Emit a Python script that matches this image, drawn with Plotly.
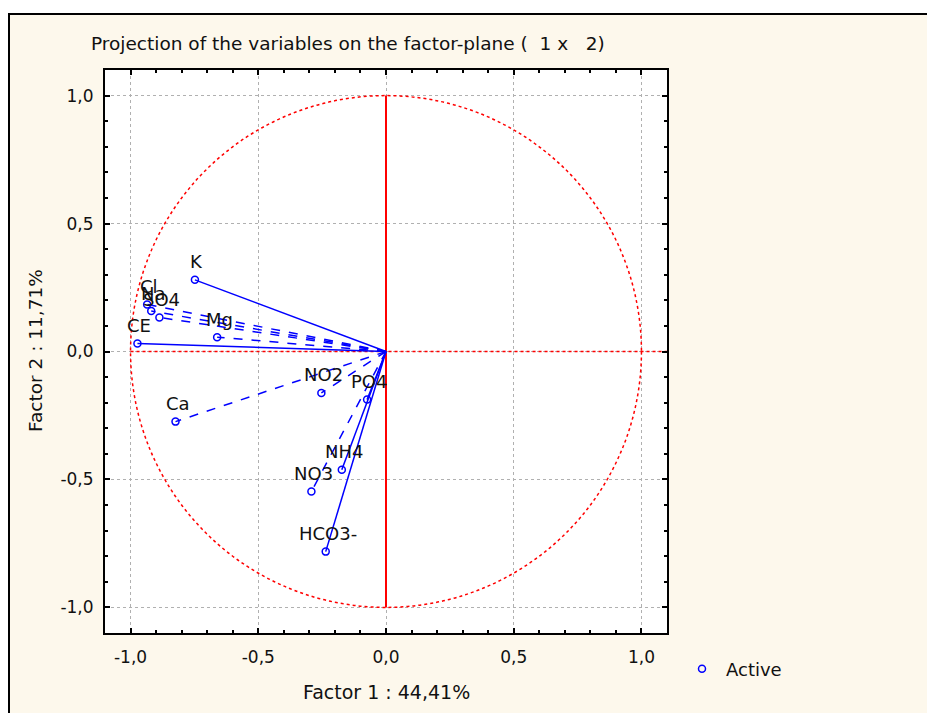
import plotly.graph_objects as go

# ---- data (factor loadings) ----
variables = ["K", "Cl", "Na", "SO4", "CE", "Mg", "Ca", "NO2", "PO4", "NH4", "NO3", "HCO3-"]
factor1 = [-0.748, -0.935, -0.919, -0.887, -0.973, -0.661, -0.824, -0.253, -0.074, -0.173, -0.292, -0.236]
factor2 = [0.280, 0.184, 0.158, 0.133, 0.031, 0.056, -0.274, -0.162, -0.188, -0.462, -0.547, -0.782]
tick_values = [-1.0, -0.5, 0.0, 0.5, 1.0]
tick_labels = [f"{v:.1f}".replace(".", ",") for v in tick_values]

# ---- styles ----
dashed_vars = {"Cl", "Na", "SO4", "Mg", "Ca", "NO2", "NO3"}
BLUE = "#0000ff"
RED = "#ff0000"
FONT = "DejaVu Sans, Arial, sans-serif"
TXT = "#111111"

# page has an 8px body margin; work in screenshot pixels and convert
OFF = 8
W, H = 935 - OFF, 713 - OFF
L, T = 105 - OFF, 70 - OFF
PW, PH = 562, 563
R, B = W - L - PW, H - T - PH


def px_x(px):
    return (px - OFF - L) / PW


def px_y(py):
    return (T + PH - (py - OFF)) / PH


fig = go.Figure()

for name, x, y in zip(variables, factor1, factor2):
    fig.add_trace(go.Scatter(
        x=[0, x], y=[0, y], mode="lines",
        line=dict(color=BLUE, width=1.5, dash="dash" if name in dashed_vars else "solid"),
        showlegend=False, hoverinfo="skip"))

fig.add_trace(go.Scatter(
    x=factor1, y=factor2, mode="markers", name="Active",
    marker=dict(symbol="circle-open", size=7, color=BLUE, line=dict(width=1.5, color=BLUE)),
    text=variables, hoverinfo="text"))

annotations = []
for name, x, y in zip(variables, factor1, factor2):
    annotations.append(dict(x=x, y=y, xref="x", yref="y", text=name, showarrow=False,
                            yshift=18, xshift=2, font=dict(family=FONT, size=18, color=TXT)))

annotations += [
    dict(x=px_x(89), y=px_y(43), xref="paper", yref="paper", xanchor="left", yanchor="middle",
         text="Projection of the variables on the factor-plane (  1 x   2)", showarrow=False,
         font=dict(family=FONT, size=18.5, color=TXT)),
    dict(x=px_x(386), y=px_y(692), xref="paper", yref="paper", xanchor="center", yanchor="middle",
         text="Factor 1 : 44,41%", showarrow=False, font=dict(family=FONT, size=19, color=TXT)),
    dict(x=px_x(35), y=px_y(351), xref="paper", yref="paper", xanchor="center", yanchor="middle",
         text="Factor 2 : 11,71%", textangle=-90, showarrow=False,
         font=dict(family=FONT, size=18.5, color=TXT)),
]

shapes = [
    # frame
    dict(type="path", xref="paper", yref="paper",
         path=f"M {px_x(9)},{px_y(H + 40)} L {px_x(9)},{px_y(14)} L {px_x(W + 40)},{px_y(14)}",
         line=dict(color="black", width=2), layer="below"),
    # white strip above the frame
    dict(type="rect", xref="paper", yref="paper", x0=px_x(-20), x1=px_x(W + 40), y0=px_y(13), y1=px_y(-20),
         fillcolor="white", line=dict(width=0), layer="below"),
    # unit circle
    dict(type="circle", xref="x", yref="y", x0=-1, y0=-1, x1=1, y1=1,
         line=dict(color=RED, width=1.5, dash="dot"), layer="between"),
    # horizontal axis line
    dict(type="line", xref="x", yref="y", x0=-1, y0=0, x1=1.1, y1=0,
         line=dict(color=RED, width=1.5, dash="dot"), layer="between"),
    # vertical axis line
    dict(type="line", xref="x", yref="y", x0=0, y0=-1, x1=0, y1=1,
         line=dict(color=RED, width=2), layer="between"),
]

axis_common = dict(
    range=[-1.1, 1.1], tickvals=tick_values, ticktext=tick_labels,
    ticks="inside", ticklen=5, tickwidth=1.5, tickcolor="black",
    showgrid=True, gridcolor="#b0b0b0", griddash="dot", gridwidth=1,
    zeroline=False, showline=True, linecolor="black", linewidth=2, mirror="ticks",
    minor=dict(tick0=0, dtick=0.1, ticks="inside", ticklen=3, tickcolor="black", showgrid=False),
    tickfont=dict(family=FONT, size=17, color=TXT),
    fixedrange=True,
)

fig.update_layout(
    width=W, height=H,
    margin=dict(l=L, r=R, t=T, b=B, autoexpand=False),
    paper_bgcolor="#fdf8ec", plot_bgcolor="white",
    xaxis=dict(axis_common, ticklabelstandoff=8),
    yaxis=dict(axis_common, ticklabelstandoff=6),
    showlegend=True,
    legend=dict(x=px_x(678), y=px_y(669), xanchor="left", yanchor="middle",
                bgcolor="rgba(0,0,0,0)", borderwidth=0,
                font=dict(family=FONT, size=18, color=TXT), itemwidth=38),
    annotations=annotations, shapes=shapes,
)

fig.write_html("out.html")
